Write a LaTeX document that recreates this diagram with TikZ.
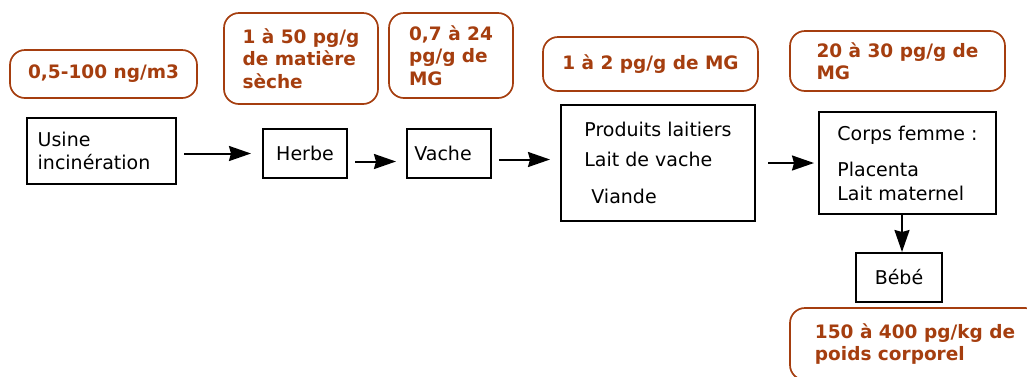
\documentclass[tikz,border=0pt]{standalone}
\usepackage{fontspec}
\setmainfont{DejaVu Sans}
\usetikzlibrary{arrows.meta}
\definecolor{brique}{RGB}{165,62,15}
\newcommand{\txtnoir}{\fontsize{19}{23}\selectfont}
\newcommand{\txtbrique}{\fontsize{18.5}{22.5}\selectfont\bfseries}

\begin{document}
\begin{tikzpicture}[x=1pt, y=-1pt,
    etape/.style={draw, line width=2pt, inner sep=0pt, align=left, font=\txtnoir},
    taux/.style={draw=brique, text=brique, rounded corners=15pt, line width=1.7pt,
      inner sep=0pt, align=left, font=\txtbrique},
    fleche/.style={line width=2pt, -{Stealth[length=22pt, width=15pt, inset=2pt]}}]

    \useasboundingbox (0,0) rectangle (1027,376);

    % concentrations
    \node[taux, minimum width=187, minimum height=48] (tauxUsine) at (103.5,74) {0,5-100 ng/m3};
    \node[taux, minimum width=154, minimum height=91] (tauxHerbe) at (301,58.5) {1 à 50 pg/g\\de matière\\sèche};
    \node[taux, minimum width=124, minimum height=85] (tauxVache) at (451,55.5) {0,7 à 24\\pg/g de\\MG};
    \node[taux, minimum width=215, minimum height=54] (tauxLait) at (650.5,64) {1 à 2 pg/g de MG};
    \node[taux, minimum width=215, minimum height=60] (tauxFemme) at (897.5,61) {20 à 30 pg/g de\\MG};
    \node[taux, minimum width=250, minimum height=72] (tauxBebe) at (915,344) {150 à 400 pg/kg de\\poids corporel};

    % chaine
    \node[etape, minimum width=149, minimum height=66] (usine) at (101.5,151) {Usine\\incinération\hspace*{15pt}};
    \node[etape, minimum width=84, minimum height=49] (herbe) at (305,153.5) {Herbe};
    \node[etape, minimum width=84, minimum height=49] (vache) at (449,153.5) {Vache\hspace*{12pt}};
    \node[etape, minimum width=194, minimum height=116] (produits) at (658,163)
        {Produits laitiers\\[7pt]Lait de vache\\[14pt]\hspace*{7pt}Viande};
    \node[etape, minimum width=177, minimum height=102] (corps) at (907.5,163)
        {Corps femme :\\[13pt]Placenta\\[1pt]Lait maternel};
    \node[etape, minimum width=86, minimum height=49] (bebe) at (899,277.5) {Bébé};

    \draw[fleche, shorten <=7pt, shorten >=11pt] (usine.east |- herbe.west) -- (herbe.west);
    \draw[fleche, shorten <=7pt, shorten >=10pt] ([yshift=-8pt]herbe.east) -- ([yshift=-8pt]herbe.east -| vache.west);
    \draw[fleche, shorten <=7pt, shorten >=10pt] ([yshift=-6pt]vache.east) -- ([yshift=-6pt]vache.east -| produits.west);
    \draw[fleche, shorten <=12pt, shorten >=4pt] (produits.east) -- (produits.east -| corps.west);
    \draw[fleche] ([xshift=3pt]bebe.north |- corps.south) -- ([xshift=3pt]bebe.north);
\end{tikzpicture}
\end{document}
